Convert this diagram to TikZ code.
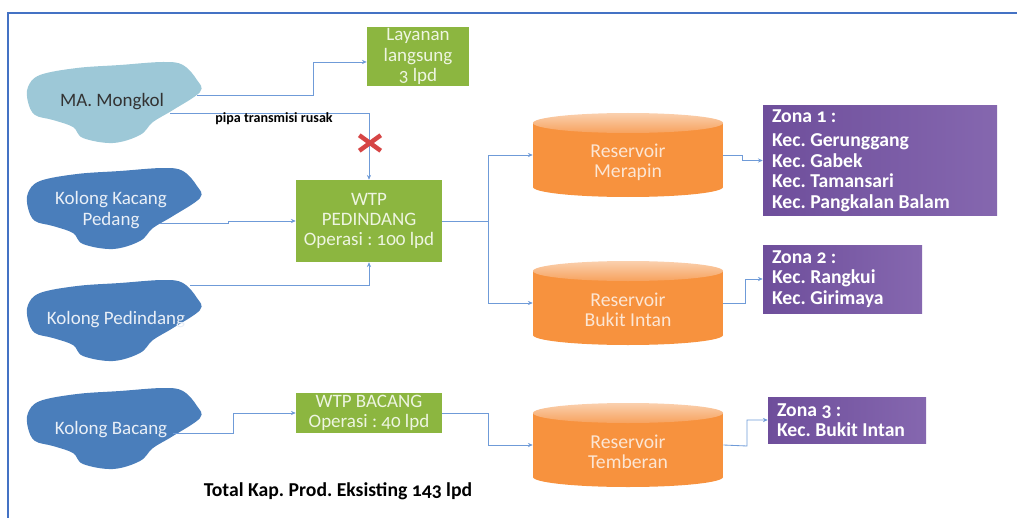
\documentclass[tikz,border=0pt]{standalone}
\usepackage{fontspec}
\setmainfont{Carlito}[Numbers=OldStyle]
\usetikzlibrary{arrows.meta,shapes.misc,calc}
\frenchspacing
\definecolor{frameblue}{HTML}{4472C4}
\definecolor{lineblue}{HTML}{6F9BD8}
\definecolor{blobdark}{HTML}{4A7EBB}
\definecolor{bloblight}{HTML}{9DC8D7}
\definecolor{greenbox}{HTML}{8CB640}
\definecolor{greentext}{HTML}{EEF5E1}
\definecolor{orangebody}{HTML}{F7923E}
\definecolor{orangetopA}{HTML}{FAD0AE}
\definecolor{orangetopB}{HTML}{F7A25E}
\definecolor{orangetext}{HTML}{FCE6D4}
\definecolor{purpleL}{HTML}{6E4E9B}
\definecolor{purpleR}{HTML}{8567AF}
\definecolor{xred}{HTML}{D64545}
\def\u{0.025cm}
\tikzset{
  pipe/.style={draw=lineblue, line width=0.6pt},
  conn/.style={pipe, -{Stealth[length=3.4pt,width=3pt]}},
  gbox/.style={fill=greenbox, text=greentext, align=center,
    font=\fontsize{13.5}{14.3}\selectfont, inner sep=0pt},
  zbox/.style={left color=purpleL, right color=purpleR, text=white, align=flush left,
    font=\bfseries\fontsize{14}{14.6}\selectfont, inner xsep=9*\u, inner ysep=0pt},
  restext/.style={text=orangetext, align=center, font=\fontsize{14}{14.3}\selectfont},
  resnode/.style={minimum width=190*\u, minimum height=84*\u, inner sep=0pt},
  blobtext/.style={text=white!88!blobdark, align=center, font=\fontsize{13.5}{14.3}\selectfont},
}
\newcommand\blobshape[3]{%
  \fill[#3, shift={(#1,#2)}] plot[smooth cycle, tension=0.6] coordinates
   {(3,42) (3,27) (15,15) (52,8) (95,5) (138,2) (158,5) (172,20) (175,32)
    (148,50) (128,62) (115,75) (88,83) (58,78) (48,67) (28,60) (10,55)};}
\newcommand\cylshape[2]{%
  \fill[orangebody] (#1-95,#2-32) rectangle (#1+95,#2+32);
  \fill[orangebody] (#1,#2+32) ellipse[x radius=95, y radius=10];
  \shade[top color=orangetopA, bottom color=orangetopB] (#1,#2-32) ellipse[x radius=95, y radius=10];}
\begin{document}
\begin{tikzpicture}[x=0.025cm, y=-0.025cm]
\useasboundingbox (0,0) rectangle (1017,518);
\draw[frameblue, line width=1.5pt] (8,518) -- (8,13) -- (1017,13);

% blobs
\blobshape{25}{60}{bloblight}
\blobshape{25}{166}{blobdark}
\blobshape{25}{278}{blobdark}
\blobshape{25}{386}{blobdark}
\node[font=\fontsize{13.5}{14.3}\selectfont, text=black!80] (mong) at (112,102) {MA. Mongkol};
\node[blobtext] (kacang) at (111,210) {Kolong Kacang\\Pedang};
\node[blobtext] (pedind) at (116,320) {Kolong Pedindang};
\node[blobtext] (bacang) at (111,430) {Kolong Bacang};
\coordinate (mongR) at (197,95);
\coordinate (mongB) at (170,113);
\coordinate (kacR) at (160,223);
\coordinate (pedR) at (190,285);
\coordinate (bacR) at (173,433);

% green boxes
\node[gbox, minimum width=102*\u, minimum height=59*\u] (lay) at (418,56.5) {Layanan\\langsung\\3 lpd};
\node[gbox, minimum width=146*\u, minimum height=82*\u] (wtp) at (369,221) {WTP\\PEDINDANG\\Operasi : 100 lpd};
\node[gbox, minimum width=146*\u, minimum height=40*\u] (wtpb) at (369,413) {WTP BACANG\\Operasi : 40 lpd};

% reservoirs
\cylshape{628}{155}
\cylshape{628}{303}
\cylshape{628}{445}
\node[resnode] (resM) at (628,155) {};
\node[resnode] (resB) at (628,303) {};
\node[resnode] (resT) at (628,445) {};
\node[restext] (resMt) at (628,162) {Reservoir\\Merapin};
\node[restext] (resBt) at (628,310) {Reservoir\\Bukit Intan};
\node[restext] (resTt) at (628,452) {Reservoir\\Temberan};

% zones
\node[zbox, text width=216*\u, minimum height=109*\u] (z1) at (880,160.5)
  {Zona 1 :\\[3pt]Kec. Gerunggang\\Kec. Gabek\\Kec. Tamansari\\Kec. Pangkalan Balam};
\node[zbox, text width=141*\u, minimum height=68*\u] (z2) at (842.5,279)
  {Zona 2 :\\Kec. Rangkui\\Kec. Girimaya};
\node[zbox, text width=140*\u, minimum height=46*\u] (z3) at (847,420)
  {Zona 3 :\\Kec. Bukit Intan};

% connectors
\draw[conn] (mongR) -- (313,95) |- ([yshift=-3.9pt]lay.west);
\draw[conn] (mongB) -| (wtp.north);
\node[font=\bfseries\fontsize{10}{11}\selectfont] (pipa) at (274,119) {pipa transmisi rusak};
\node[cross out, draw=xred, line width=3.2pt, minimum width=17*\u, minimum height=11*\u, inner sep=0pt] (xmark) at (370,143) {};
\draw[conn] (kacR) -- (228,223) |- (wtp.west);
\draw[conn] (pedR) -| (wtp.south);
\draw[conn] (bacR) -- (233,433) |- (wtpb.west);
\draw[pipe] (wtp.east) -- (488,221);
\draw[conn] (488,221) |- (resM.west);
\draw[conn] (488,221) |- (resB.west);
\draw[conn] (wtpb.east) -- (488,413) |- (resT.west);
\draw[conn] (resM.east) -- (742,155) |- (z1.west);
\draw[conn] (resB.east) -- (745,303) |- (z2.west);
\draw[conn] (resT.east) -- (747,446) |- (z3.west);

\node[font=\bfseries\fontsize{14}{15}\selectfont] (total) at (338,491) {Total Kap. Prod. Eksisting 143 lpd};
\end{tikzpicture}
\end{document}
